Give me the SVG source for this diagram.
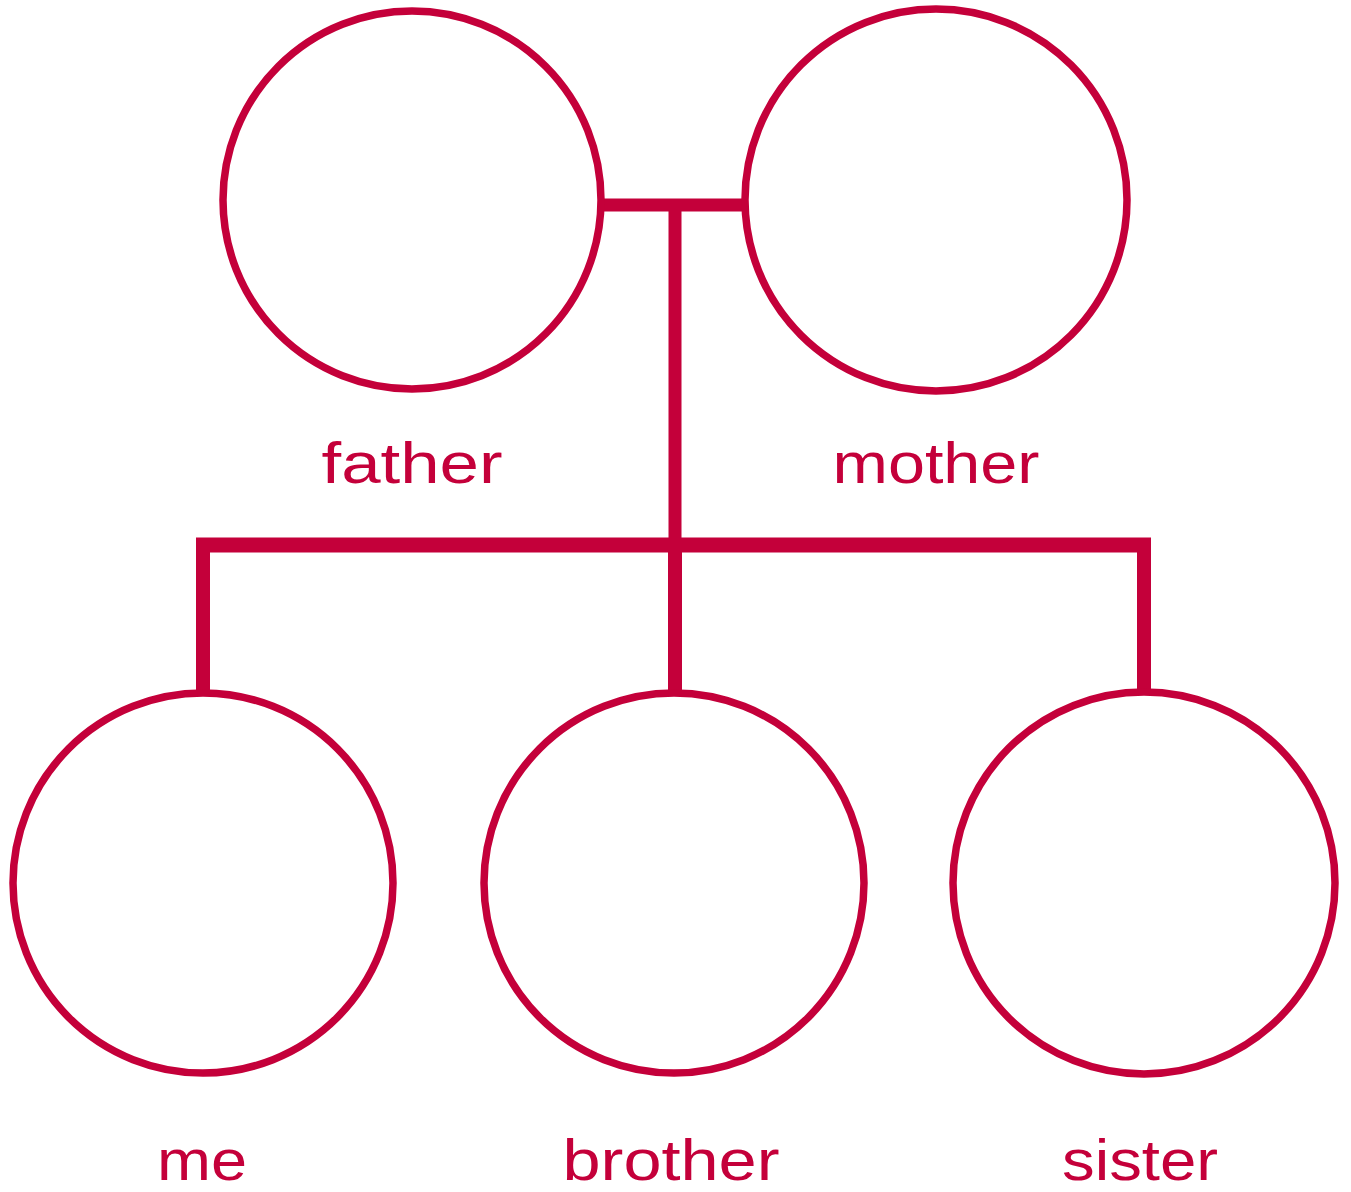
<svg xmlns="http://www.w3.org/2000/svg" width="1351" height="1192" viewBox="0 0 1351 1192">
<style>
.node circle{fill:none;stroke:#c4003a;stroke-width:7.5}
.lbl{font-family:"Liberation Sans","Noto Sans",sans-serif;font-size:58px;font-weight:400;fill:#c4003a;text-anchor:middle}
.conn line{stroke:#c4003a;stroke-linecap:butt}
</style>
<rect width="1351" height="1192" fill="#ffffff"/>
<g class="conn" id="connectors">
<line x1="604" y1="205" x2="745" y2="205" stroke-width="13"/>
<line x1="675" y1="199" x2="675" y2="552" stroke-width="13"/>
<line x1="196" y1="545" x2="1151" y2="545" stroke-width="15"/>
<line x1="203" y1="545" x2="203" y2="692" stroke-width="14"/>
<line x1="675" y1="545" x2="675" y2="692" stroke-width="14"/>
<line x1="1144" y1="545" x2="1144" y2="692" stroke-width="14"/>
</g>
<g class="node" id="father"><circle cx="412" cy="200" r="189"/><text class="lbl" x="412" y="483" textLength="181" lengthAdjust="spacingAndGlyphs">father</text></g>
<g class="node" id="mother"><circle cx="936" cy="200" r="191"/><text class="lbl" x="936" y="483" textLength="207" lengthAdjust="spacingAndGlyphs">mother</text></g>
<g class="node" id="me"><circle cx="203" cy="883" r="190"/><text class="lbl" x="202" y="1180" textLength="90" lengthAdjust="spacingAndGlyphs">me</text></g>
<g class="node" id="brother"><circle cx="674" cy="883" r="190"/><text class="lbl" x="671" y="1180" textLength="217" lengthAdjust="spacingAndGlyphs">brother</text></g>
<g class="node" id="sister"><circle cx="1144" cy="883" r="191"/><text class="lbl" x="1140" y="1180" textLength="156" lengthAdjust="spacingAndGlyphs">sister</text></g>
</svg>
